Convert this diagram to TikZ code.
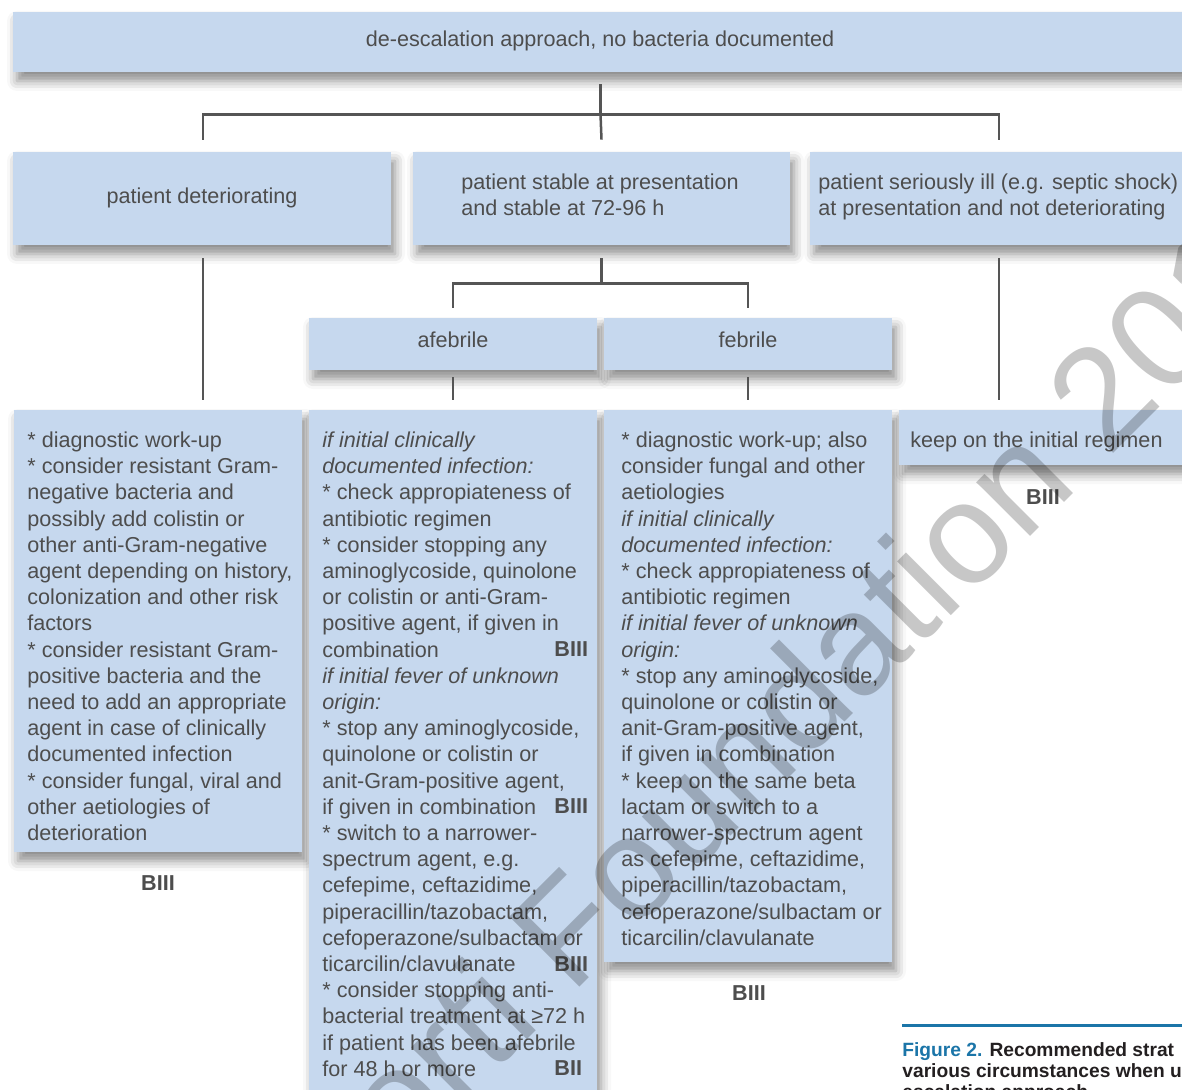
\documentclass[tikz,border=0pt]{standalone}
\usepackage{fontspec}
\setmainfont{Liberation Sans}
\usepackage{xcolor}
\usetikzlibrary{fit,calc,shadows.blur}

\definecolor{boxblue}{RGB}{198,216,238}
\definecolor{inkgrey}{RGB}{77,77,77}
\definecolor{linegrey}{RGB}{85,85,85}
\definecolor{captionblue}{RGB}{27,117,168}
\definecolor{captionink}{RGB}{35,31,32}
\newcommand{\boxfont}{\fontsize{10.8}{13.1}\selectfont}

\tikzset{
  panel/.style={fill=boxblue, inner sep=0pt,
    blur shadow={shadow xshift=2pt, shadow yshift=-4.5pt, shadow blur radius=5pt, shadow opacity=45}},
  link/.style={draw=linegrey, line width=1.25pt},
  label/.style={anchor=base, inner sep=0pt, text=inkgrey, font=\boxfont},
  lines/.style={anchor=north west, inner sep=0pt, align=left, text=inkgrey, font=\boxfont},
  grade/.style={inner sep=0pt, text=inkgrey, font=\boxfont\bfseries}
}

\begin{document}
\begin{tikzpicture}[x=0.5pt,y=-0.5pt]
\useasboundingbox (0,0) rectangle (1182,1090);
\clip (0,0) rectangle (1182,1090);

\node[panel, fit={(13,12) (1188,72)}] (top) {};
\node[label] (toptext) at (600,46.5) {de-escalation approach, no bacteria documented};

\node[panel, fit={(13,152) (391,245)}] (deter) {};
\node[panel, fit={(413,152) (790,245)}] (stable) {};
\node[panel, fit={(810,152) (1188,245)}] (ill) {};
\node[label] (detertext) at (202,203.3) {patient deteriorating};
\node[lines] (stabletext) at (461,170.5) {\strut patient stable at presentation\\and stable at 72-96 h};
\node[lines] (illtext) at (818,170.5) {\strut patient seriously ill (e.g. septic shock)\\at presentation and not deteriorating};

\node[panel, fit={(309,318) (597,370)}] (afeb) {};
\node[panel, fit={(604,318) (892,370)}] (feb) {};
\node[label] (afebtext) at (453,347.3) {afebrile};
\node[label] (febtext) at (748,347.3) {febrile};

\node[panel, fit={(14,410) (302,852)}] (diag) {};
\node[panel, fit={(309,410) (597,1110)}] (stop) {};
\node[panel, fit={(604,410) (892,962)}] (keepbeta) {};
\node[panel, fit={(899,410) (1187,465)}] (keep) {};

\coordinate (hub) at ($(top.south)+(0,42)$);
\draw[link] ($(top.south)+(0,12)$) -- (hub);
\draw[link] ($(deter.north)+(1,-12)$) |- (hub) -| ($(ill.north)+(0,-12)$);
\draw[link] (hub) -- ($(stable.north)+(0,-12)$);

\coordinate (fork) at ($(stable.south)+(0,38)$);
\draw[link] ($(stable.south)+(0,13)$) -- (fork);
\draw[link] ($(afeb.north)+(0,-10)$) |- (fork) -| ($(feb.north)+(0,-10)$);

\draw[link] ($(deter.south)+(1,13)$) -- ($(deter.south |- diag.north)+(1,-10)$);
\draw[link] ($(afeb.south)+(0,7)$) -- ($(stop.north)+(0,-10)$);
\draw[link] ($(feb.south)+(0,7)$) -- ($(keepbeta.north)+(0,-10)$);
\draw[link] ($(ill.south)+(0,13)$) -- ($(ill.south |- keep.north)+(0,-10)$);

\node[lines] (diagtext) at (27,428.7) {\strut{*} diagnostic work-up\\{*} consider resistant Gram-\\negative bacteria and\\possibly add colistin or\\other anti-Gram-negative\\agent depending on history,\\colonization and other risk\\factors\\{*} consider resistant Gram-\\positive bacteria and the\\need to add an appropriate\\agent in case of clinically\\documented infection\\{*} consider fungal, viral and\\other aetiologies of\\deterioration};

\node[lines] (stoptext) at (322,428.7) {\strut\textit{if initial clinically}\\\textit{documented infection:}\\{*} check appropiateness of\\antibiotic regimen\\{*} consider stopping any\\aminoglycoside, quinolone\\or colistin or anti-Gram-\\positive agent, if given in\\combination\\\textit{if initial fever of unknown}\\\textit{origin:}\\{*} stop any aminoglycoside,\\quinolone or colistin or\\anit-Gram-positive agent,\\if given in combination\\{*} switch to a narrower-\\spectrum agent, e.g.\\cefepime, ceftazidime,\\piperacillin/tazobactam,\\cefoperazone/sulbactam or\\ticarcilin/clavulanate\\{*} consider stopping anti-\\bacterial treatment at ≥72 h\\if patient has been afebrile\\for 48 h or more};

\node[lines] (keepbetatext) at (621,428.7) {\strut{*} diagnostic work-up; also\\consider fungal and other\\aetiologies\\\textit{if initial clinically}\\\textit{documented infection:}\\{*} check appropiateness of\\antibiotic regimen\\\textit{if initial fever of unknown}\\\textit{origin:}\\{*} stop any aminoglycoside,\\quinolone or colistin or\\anit-Gram-positive agent,\\if given in combination\\{*} keep on the same beta\\lactam or switch to a\\narrower-spectrum agent\\as cefepime, ceftazidime,\\piperacillin/tazobactam,\\cefoperazone/sulbactam or\\ticarcilin/clavulanate};

\node[lines] (keeptext) at (910,428.7) {\strut keep on the initial regimen};

\node[grade] (gdiag) at (158,883) {BIII};
\node[grade, anchor=base west] (gstopa) at (554,656.6) {BIII};
\node[grade, anchor=base west] (gstopb) at (554,813.8) {BIII};
\node[grade, anchor=base west] (gstopc) at (554,971) {BIII};
\node[grade, anchor=base west] (gstopd) at (554,1075.8) {BII};
\node[grade] (gkeepbeta) at (749,993) {BIII};
\node[grade] (gkeep) at (1043,497) {BIII};

\node[anchor=base west, rotate=45, inner sep=0pt, text=black, text opacity=0.22, font=\fontsize{72}{72}\selectfont] (mark) at (305,1262) {Storti Foundation 201};

\draw[captionblue, line width=1.5pt] (902,1025) -- (1190,1025);
\node[anchor=north west, inner sep=0pt, align=left, text=captionink, font=\fontsize{9.6}{10.5}\selectfont\bfseries] (caption) at (902,1041.3) {\strut\textcolor{captionblue}{Figure 2.} Recommended strat\\various circumstances when u\\escalation approach};
\end{tikzpicture}
\end{document}
